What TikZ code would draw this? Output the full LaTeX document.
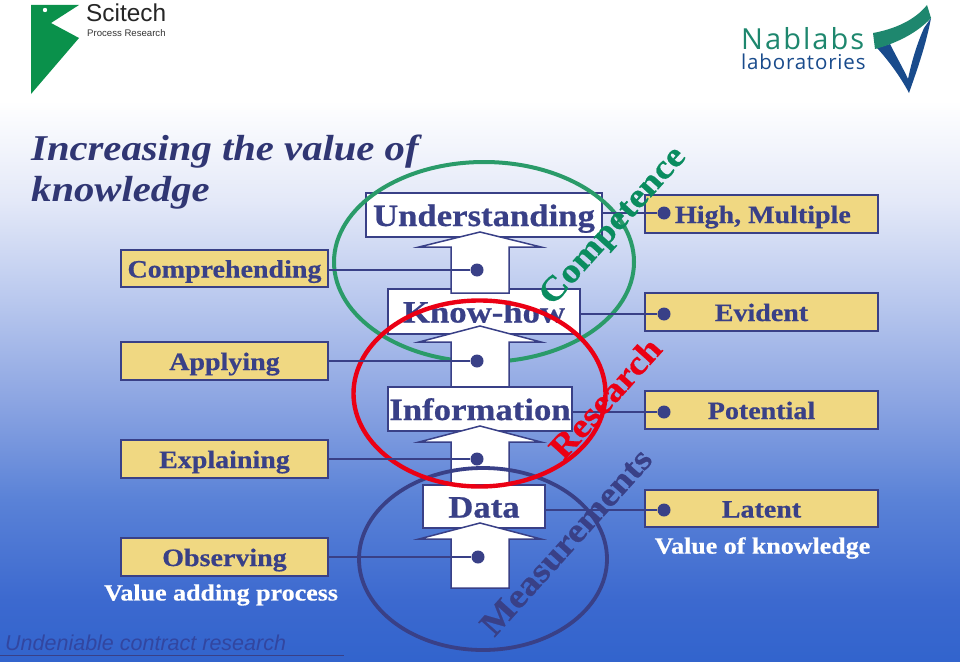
\documentclass[tikz,border=0pt]{standalone}
\usepackage{fontspec}
\setmainfont{Liberation Serif}
\newfontfamily\capfont[FakeStretch=1.12,BoldFeatures={FakeBold=0.6}]{Liberation Serif}
\newfontfamily\logofont{Liberation Sans}
\newfontfamily\nabfont[LetterSpace=7]{Open Sans}
\newfontfamily\nabsmall[LetterSpace=4]{Open Sans}
\definecolor{navy}{RGB}{57,64,135}
\definecolor{titlenavy}{RGB}{48,54,115}
\definecolor{sand}{RGB}{240,216,130}
\definecolor{ringgreen}{RGB}{42,155,105}
\definecolor{wordgreen}{RGB}{10,140,95}
\definecolor{ringred}{RGB}{235,0,20}
\definecolor{logogreen}{RGB}{10,145,75}
\definecolor{nabgreen}{RGB}{30,135,110}
\definecolor{nabblue}{RGB}{25,75,140}
\definecolor{footblue}{RGB}{50,70,160}
\definecolor{bga}{RGB}{50,100,205}
\definecolor{bgb}{RGB}{60,105,207}
\definecolor{bgc}{RGB}{90,130,215}
\definecolor{bgd}{RGB}{140,165,226}
\definecolor{bge}{RGB}{185,200,238}
\definecolor{bgf}{RGB}{228,233,248}
\pgfdeclareverticalshading{slidebg}{100bp}{color(0bp)=(bga);color(25bp)=(bga);color(29.6bp)=(bgb);color(37.2bp)=(bgc);color(44.7bp)=(bgd);color(52.3bp)=(bge);color(59.9bp)=(bgf);color(67.4bp)=(white);color(100bp)=(white)}
\tikzset{
  whitebox/.style={draw=navy,line width=2pt,fill=white,inner sep=0pt,text=navy,text height=22pt,text depth=0pt,font=\capfont\bfseries\fontsize{31}{31}\selectfont},
  sandbox/.style={draw=navy,line width=1.5pt,fill=sand,inner sep=0pt,text=navy,text height=18pt,text depth=0pt,font=\capfont\bfseries\fontsize{25}{25}\selectfont},
  upblock/.style={draw=navy,line width=1.5pt,fill=white,line join=miter},
  dotmark/.style={circle,fill=navy,draw=none,minimum size=13pt,inner sep=0pt},
  link/.style={draw=navy,line width=1.5pt},
  whitecap/.style={text=white,inner sep=0pt,font=\capfont\bfseries\fontsize{23.2}{23.2}\selectfont},
  slanted word/.style={inner sep=0pt,rotate=48,font=\capfont\bfseries\fontsize{34}{34}\selectfont}
}
\newcommand{\upblockat}[3]{\draw[upblock] (480,#1) -- (541,#2) -- (509,#2) -- (509,#3) -- (451,#3) -- (451,#2) -- (419,#2) -- cycle;}
\begin{document}
\begin{tikzpicture}[x=1pt,y=-1pt]
\useasboundingbox (0,0) rectangle (960,661);
\shade[shading=slidebg] (0,0) rectangle (960,661);
% logos
\fill[logogreen] (31,5) -- (79,5) -- (51,23) -- (79,38) -- (31,94) -- cycle;
\fill[white] (45,10) circle (2.2);
\node[anchor=base west,inner sep=0pt,text=black!85,font=\logofont\fontsize{24.4}{24.4}\selectfont] (scitech) at (86,22) {Scitech};
\node[anchor=base west,inner sep=0pt,text=black!80,font=\logofont\fontsize{9.6}{9.6}\selectfont] (process) at (87,37) {Process Research};
\node[anchor=base west,inner sep=0pt,text=nabgreen,font=\nabfont\fontsize{29}{29}\selectfont] (nablabs) at (741,50) {Nablabs};
\node[anchor=base west,inner sep=0pt,text=nabblue,font=\nabsmall\fontsize{20.5}{20.5}\selectfont] (labs) at (741,69) {laboratories};
\fill[nabblue] (877,48) -- (890,44) .. controls (897,58) and (903,68) .. (908,79) .. controls (912,60) and (917,44) .. (924,28) -- (931,18) .. controls (926,45) and (917,70) .. (909,93) .. controls (900,76) and (888,60) .. (877,48) -- cycle;
\fill[nabgreen] (873,33) .. controls (895,29) and (915,20) .. (927,5) -- (931,18) .. controls (917,33) and (897,43) .. (875,49) -- cycle;
% title
\node[anchor=base west,inner sep=0pt,text=titlenavy,font=\capfont\bfseries\itshape\fontsize{36.3}{36.3}\selectfont] (title1) at (31,160) {Increasing the value of};
\node[anchor=base west,inner sep=0pt,text=titlenavy,font=\capfont\bfseries\itshape\fontsize{36.3}{36.3}\selectfont] (title2) at (31,201) {knowledge};
% stack
\node[whitebox,minimum width=236pt,minimum height=44pt] (understanding) at (484,215) {Understanding};
\node[whitebox,minimum width=192pt,minimum height=45pt] (knowhow) at (484,311.5) {Know-how};
\draw[ringgreen,line width=4pt] (484,262) ellipse [x radius=150pt,y radius=100pt];
\upblockat{232}{247}{293}
\upblockat{326}{342}{390}
\node[whitebox,minimum width=184pt,minimum height=44pt] (information) at (480,409) {Information};
\upblockat{426}{442}{485}
\node[whitebox,minimum width=122pt,minimum height=43pt] (data) at (484,506.5) {Data};
\upblockat{523}{539}{588}
\draw[navy,line width=3.8pt] (483,559) ellipse [x radius=124pt,y radius=91pt];
\draw[ringred,line width=4.4pt] (479.5,393.5) ellipse [x radius=126pt,y radius=93pt];
% left labels
\node[sandbox,minimum width=207pt,minimum height=37pt] (comprehending) at (224.5,268.5) {Comprehending};
\node[sandbox,minimum width=207pt,minimum height=38pt] (applying) at (224.5,361) {Applying};
\node[sandbox,minimum width=207pt,minimum height=38pt] (explaining) at (224.5,459) {Explaining};
\node[sandbox,minimum width=207pt,minimum height=38pt] (observing) at (224.5,557) {Observing};
\node[dotmark] (d1) at (477,270) {};
\node[dotmark] (d2) at (477,361) {};
\node[dotmark] (d3) at (477,459) {};
\node[dotmark] (d4) at (478,557) {};
\draw[link] (comprehending.east |- d1) -- (d1);
\draw[link] (applying.east |- d2) -- (d2);
\draw[link] (explaining.east |- d3) -- (d3);
\draw[link] (observing.east |- d4) -- (d4);
% right labels
\node[sandbox,minimum width=233pt,minimum height=38pt] (high) at (761.5,214) {\makebox[233pt][l]{\hspace*{30pt}High, Multiple}};
\node[sandbox,minimum width=233pt,minimum height=38pt] (evident) at (761.5,312) {Evident};
\node[sandbox,minimum width=233pt,minimum height=38pt] (potential) at (761.5,410) {Potential};
\node[sandbox,minimum width=233pt,minimum height=37pt] (latent) at (761.5,508.5) {Latent};
\node[dotmark] (r1) at (664,213) {};
\node[dotmark] (r2) at (664,314) {};
\node[dotmark] (r3) at (664,412) {};
\node[dotmark] (r4) at (664,510) {};
\draw[link] (understanding.east |- r1) -- (r1);
\draw[link] (knowhow.east |- r2) -- (r2);
\draw[link] (information.east |- r3) -- (r3);
\draw[link] (data.east |- r4) -- (r4);
% captions
\node[whitecap] (vadd) at (221,595) {Value adding process};
\node[whitecap] (vknow) at (762.5,548) {Value of knowledge};
% slanted words
\node[slanted word,text=wordgreen] (competence) at (614,227) {Competence};
\node[slanted word,text=ringred] (research) at (605,398) {Research};
\node[slanted word,text=navy] (measurements) at (566,542) {Measurements};
% footer
\node[anchor=base west,inner sep=0pt,text=footblue,font=\logofont\itshape\fontsize{21.5}{21.5}\selectfont] (foot) at (5,650) {Undeniable contract research};
\coordinate (footl) at (0,655);
\coordinate (footr) at (344,655);
\draw[navy,line width=0.8pt] (footl) -- (footr);
\end{tikzpicture}
\end{document}
